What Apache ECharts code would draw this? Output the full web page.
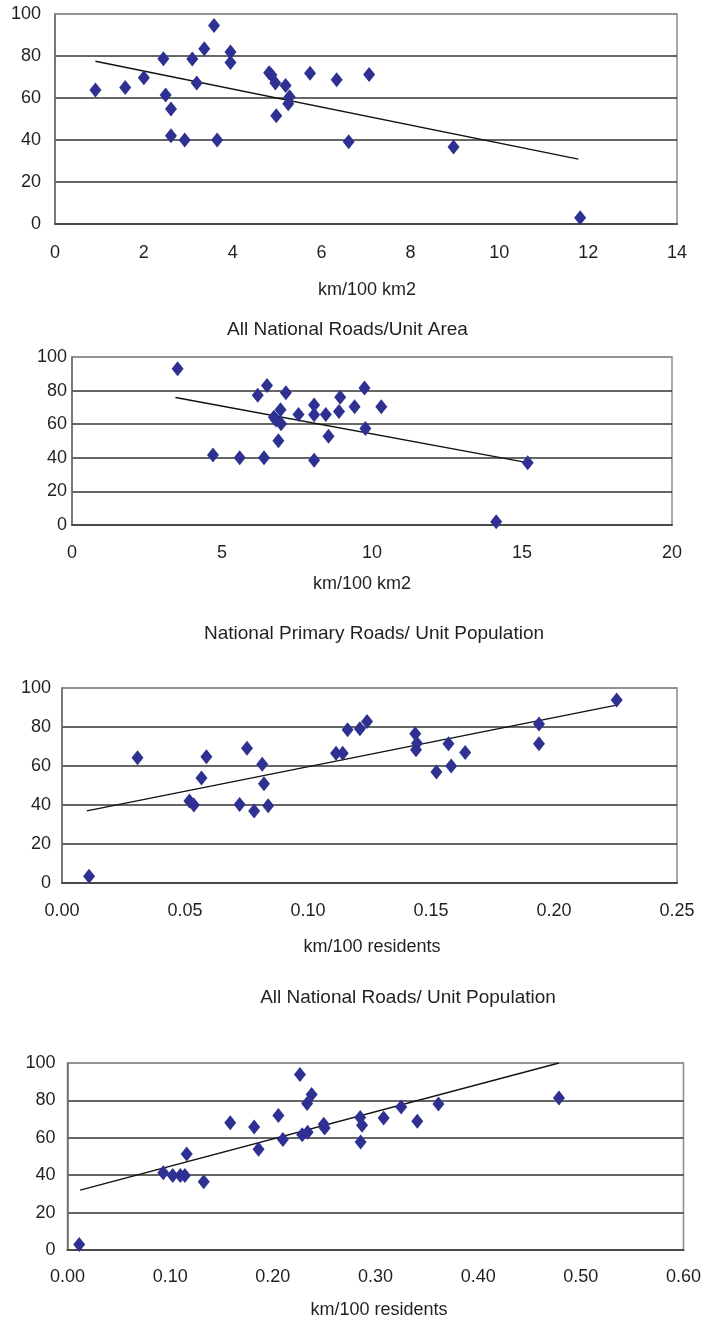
<!DOCTYPE html>
<html><head><meta charset="utf-8">
<script src="https://cdn.jsdelivr.net/npm/echarts@6/dist/echarts.min.js"></script>
<style>html,body{margin:0;padding:0;background:#fff}#c{width:706px;height:1326px}</style>
</head><body><div id="c"></div>
<script>
// Panel 1: km/100 km2 (unit area, primary roads)
const p1X = [0.91,1.58,2.0,2.44,2.49,2.61,2.61,2.92,3.09,3.19,3.36,3.58,3.65,3.95,3.95,4.82,4.87,4.96,4.98,5.19,5.28,5.25,5.74,6.34,6.61,7.07,8.97,11.82];
const p1Y = [63.8,65.0,69.6,78.7,61.4,54.8,42.0,40.0,78.6,67.2,83.5,94.5,40.0,81.9,76.9,72.0,71.0,67.2,51.5,66.0,60.6,57.3,71.8,68.7,39.2,71.2,36.7,3.0];
const t1X = [0.91,11.78], t1Y = [77.5,30.9];
// Panel 2: All National Roads/Unit Area
const p2X = [3.52,4.70,5.59,6.19,6.40,6.50,6.73,6.80,6.95,6.97,6.88,7.13,7.55,8.07,8.07,8.07,8.46,8.55,8.90,8.94,9.42,9.75,9.78,10.31,14.14,15.19];
const p2Y = [93.0,41.6,40.0,77.3,40.0,83.1,64.2,62.5,68.6,60.2,50.1,78.7,65.8,71.4,65.6,38.6,65.8,52.9,67.6,76.1,70.4,81.5,57.5,70.4,2.0,37.0];
const t2X = [3.45,15.09], t2Y = [75.9,37.4];
// Panel 3: National Primary Roads/ Unit Population
const p3X = [0.0110,0.0307,0.0518,0.0536,0.0567,0.0587,0.0722,0.0752,0.0781,0.0814,0.0821,0.0838,0.1114,0.1141,0.1161,0.1211,0.1240,0.1436,0.1439,0.1443,0.1522,0.1571,0.1582,0.1639,0.1939,0.1939,0.2255];
const p3Y = [3.4,64.2,42.0,40.0,53.9,64.7,40.3,69.1,36.9,60.9,50.9,39.6,66.6,66.6,78.6,79.1,82.8,76.5,68.3,71.7,56.9,71.4,60.0,66.9,81.6,71.4,93.8];
const t3X = [0.0101,0.2249], t3Y = [37.0,91.1];
// Panel 4: All National Roads/ Unit Population
const p4X = [0.0114,0.0933,0.1025,0.1099,0.1143,0.1161,0.1327,0.1585,0.1818,0.1861,0.2054,0.2098,0.2264,0.2286,0.2334,0.2339,0.2378,0.2496,0.2505,0.2851,0.2855,0.2869,0.3079,0.3250,0.3407,0.3613,0.4787];
const p4Y = [3.0,41.3,39.9,39.9,39.9,51.4,36.5,68.0,65.8,53.9,71.9,59.1,93.8,61.6,78.3,63.0,83.1,67.3,65.3,70.8,57.7,66.7,70.6,76.5,68.9,78.1,81.3];
const t4X = [0.0123,0.4787], t4Y = [32.0,100];

const titles = ["All National Roads/Unit Area","National Primary Roads/ Unit Population","All National Roads/ Unit Population"];
const xNames = ["km/100 km2","km/100 km2","km/100 residents","km/100 residents"];
const xMax = [14,20,0.25,0.6], xInt = [2,5,0.05,0.1], xDec = [0,0,2,2];

const FONT = "'Liberation Sans', Arial, sans-serif";
const TXT = '#231f20';
const zip = (a,b)=>a.map((v,i)=>[v,b[i]]);
const pts = [zip(p1X,p1Y),zip(p2X,p2Y),zip(p3X,p3Y),zip(p4X,p4Y)];
const trs = [zip(t1X,t1Y),zip(t2X,t2Y),zip(t3X,t3Y),zip(t4X,t4Y)];

const grids = [
  {left:55, top:14, width:622, height:210},
  {left:72, top:357, width:600, height:168},
  {left:62, top:688, width:615, height:195},
  {left:67.5, top:1063, width:616, height:187}
];
const yMargins = [14,5,11,12];
const xMargins = [20,19,19,18];

const option = {
  animation:false,
  backgroundColor:'#fff',
  grid: grids.map(g=>Object.assign({show:true, borderColor:'#8c8c8c', borderWidth:1.5, backgroundColor:'#fff'}, g)),
  xAxis: grids.map((g,i)=>({
    gridIndex:i, type:'value', min:0, max:xMax[i], interval:xInt[i],
    axisLine:{show:true, onZero:false, lineStyle:{color:'#4a4a4a', width:2}},
    axisTick:{show:false}, splitLine:{show:false},
    axisLabel:{color:TXT, fontFamily:FONT, fontSize:18, margin:xMargins[i],
      formatter:v=>v.toFixed(xDec[i])}
  })),
  yAxis: grids.map((g,i)=>({
    gridIndex:i, type:'value', min:0, max:100, interval:20,
    axisLine:{show:true, lineStyle:{color:'#6a6a6a', width:1.5}},
    axisTick:{show:false},
    splitLine:{show:true, lineStyle:{color:['#333','#333','#333','#333','#333','#8c8c8c'], width:1.7}},
    axisLabel:{color:TXT, fontFamily:FONT, fontSize:18, margin:yMargins[i]}
  })),
  series: [].concat(
    pts.map((d,i)=>({type:'scatter', xAxisIndex:i, yAxisIndex:i, data:d, symbol:'diamond', symbolSize:[12,15],
      itemStyle:{color:'#2e3192', opacity:1}, z:3})),
    trs.map((d,i)=>({type:'line', xAxisIndex:i, yAxisIndex:i, data:d, symbol:'none',
      lineStyle:{color:'#111', width:1.4}, z:2}))
  ),
  graphic: [
    {type:'text', x:347.5, y:330, style:{text:titles[0], font:'19px '+FONT, fill:TXT, textAlign:'center', textVerticalAlign:'middle'}},
    {type:'text', x:374, y:634, style:{text:titles[1], font:'19px '+FONT, fill:TXT, textAlign:'center', textVerticalAlign:'middle'}},
    {type:'text', x:408, y:998, style:{text:titles[2], font:'19px '+FONT, fill:TXT, textAlign:'center', textVerticalAlign:'middle'}},
    {type:'text', x:367, y:290, style:{text:xNames[0], font:'18px '+FONT, fill:TXT, textAlign:'center', textVerticalAlign:'middle'}},
    {type:'text', x:362, y:584, style:{text:xNames[1], font:'18px '+FONT, fill:TXT, textAlign:'center', textVerticalAlign:'middle'}},
    {type:'text', x:372, y:947, style:{text:xNames[2], font:'18px '+FONT, fill:TXT, textAlign:'center', textVerticalAlign:'middle'}},
    {type:'text', x:379, y:1310, style:{text:xNames[3], font:'18px '+FONT, fill:TXT, textAlign:'center', textVerticalAlign:'middle'}}
  ]
};
const chart = echarts.init(document.getElementById('c'), null, {renderer:'canvas'});
chart.setOption(option);
</script></body></html>
